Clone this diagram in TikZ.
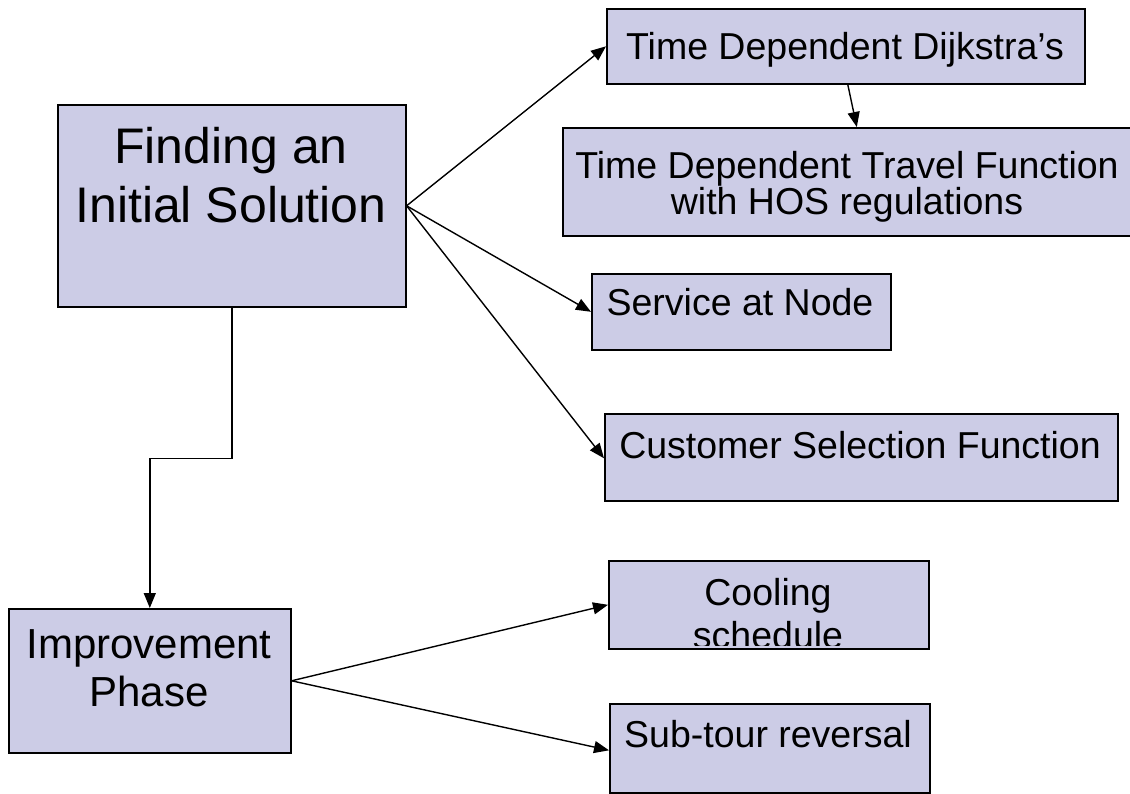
\documentclass[tikz,border=0pt]{standalone}
\usepackage{fontspec}
\setmainfont{Liberation Sans}
\usetikzlibrary{arrows.meta}
\definecolor{boxfill}{RGB}{204,204,230}
\tikzset{
  box/.style={draw=black, line width=1.6pt, fill=boxfill, inner sep=0pt, anchor=north west},
  txt/.style={inner sep=0pt, anchor=base, text=black},
  big/.style={font=\fontsize{50}{60}\selectfont},
  mid/.style={font=\fontsize{42}{48}\selectfont},
  small/.style={font=\fontsize{37.5}{44}\selectfont},
  arr/.style={draw=black, line width=1.4pt, -{Triangle[length=15pt,width=12pt]}}
}
\begin{document}
\begin{tikzpicture}[x=1pt,y=-1pt]
\useasboundingbox (0,0) rectangle (1130,793);

% boxes
\node[box, minimum width=348pt, minimum height=202pt] (finding)  at (57,104)  {};
\node[box, minimum width=282pt, minimum height=144pt] (improve)  at (8,608)   {};
\node[box, minimum width=478pt, minimum height=75pt]  (dijkstra) at (606,8)   {};
\node[box, minimum width=580pt, minimum height=108pt] (travel)   at (562,127) {};
\node[box, minimum width=299pt, minimum height=76pt]  (service)  at (591,273) {};
\node[box, minimum width=513pt, minimum height=87pt]  (customer) at (604,413) {};
\node[box, minimum width=320pt, minimum height=88pt]  (cooling)  at (608,560) {};
\node[box, minimum width=320pt, minimum height=89pt]  (subtour)  at (609,703) {};

% labels
\node[txt, big] (findingA) at (231,163) {Finding an};
\node[txt, big] (findingB) at (231,222) {Initial Solution};
\node[txt, mid] (improveA) at (149,658) {Improvement};
\node[txt, mid] (improveB) at (149,706) {Phase};
\node[txt, small] (dijkstraT) at (845,59) {Time Dependent Dijkstra’s};
\node[txt, small] (travelA) at (847,178) {Time Dependent Travel Function};
\node[txt, small] (travelB) at (847,214) {with HOS regulations};
\node[txt, small] (serviceT) at (740,315) {Service at Node};
\node[txt, small] (customerT) at (860,458) {Customer Selection Function};
\node[txt, small] (subtourT) at (768,747) {Sub-tour reversal};
\begin{scope}
  \clip (608,560) rectangle (928,645);
  \node[txt, small] (coolingA) at (768,605) {Cooling};
  \node[txt, small] (coolingB) at (768,648.5) {schedule};
\end{scope}

% connectors
\draw[arr] (finding.east) -- (dijkstra.west);
\draw[arr] (finding.east) -- (service.west);
\draw[arr] (finding.east) -- ([yshift=-1pt]customer.west);
\draw[arr] ([xshift=2pt]dijkstra.south) -- ([xshift=4pt]travel.north);
\draw[arr] (finding.south) -- ++(0,151) -| (improve.north);
\draw[arr] (improve.east) -- (cooling.west);
\draw[arr] (improve.east) -- ([yshift=-2pt]subtour.west);
\end{tikzpicture}
\end{document}
